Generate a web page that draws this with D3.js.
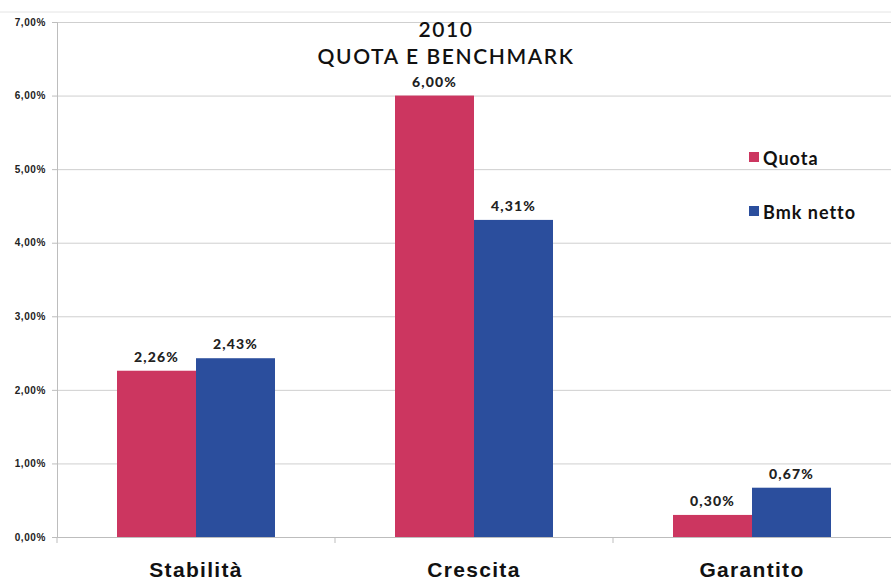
<!DOCTYPE html>
<html>
<head>
<meta charset="utf-8">
<script src="https://cdn.jsdelivr.net/npm/d3@7"></script>
<style>
  body { margin: 0; background: #fff; }
  svg { font-family: Lato, "Open Sans", sans-serif; }
  .grid line { stroke: #cfcfcf; }
  .grid path { display: none; }
  .y-axis path, .y-axis line { stroke: #bdbdbd; }
  .y-axis text { font-size: 10px; font-weight: 900; fill: #222; letter-spacing: 0.6px; }
  .x-axis path, .x-axis line { stroke: #bdbdbd; }
  .x-axis text { font-size: 21px; font-weight: bold; fill: #111; letter-spacing: 1.3px; }
</style>
</head>
<body>
<svg id="chart"></svg>
<script>
'use strict';

const categories = ['Stabilità', 'Crescita', 'Garantito'];
const seriesNames = ['Quota', 'Bmk netto'];
const quota = [2.26, 6.00, 0.30];
const bmkNetto = [2.43, 4.31, 0.67];
const yTicks = [0, 1, 2, 3, 4, 5, 6, 7];
const colors = ['#cc3660', '#2b4e9d'];

const W = 891, H = 585;
const margin = { top: 22, right: 0, bottom: 48, left: 57 };
const width = W - margin.left - margin.right;
const height = H - margin.top - margin.bottom;

const fmt = v => v.toFixed(2).replace('.', ',') + '%';

const svg = d3.select('#chart')
    .attr('width', W)
    .attr('height', H);

svg.append('line')
    .attr('x1', 0).attr('x2', W)
    .attr('y1', 12).attr('y2', 12)
    .attr('stroke', '#e4e4e4');

const graph = svg.append('g')
    .attr('transform', `translate(${margin.left}, ${margin.top})`);

const x = d3.scaleBand()
    .domain(categories)
    .range([0, width])
    .padding(0);

const barGroup = 158;
const x1 = d3.scaleBand()
    .domain(seriesNames)
    .range([(x.bandwidth() - barGroup) / 2, (x.bandwidth() + barGroup) / 2]);

const y = d3.scaleLinear()
    .domain([0, 7])
    .range([height, 0]);

graph.append('g')
    .attr('class', 'grid')
    .call(d3.axisLeft(y).tickValues(yTicks).tickSize(-width).tickFormat(''));

graph.append('g')
    .attr('class', 'y-axis')
    .call(d3.axisLeft(y).tickValues(yTicks).tickSize(5).tickPadding(6)
      .tickFormat(d => fmt(d)));

const data = categories.map((c, i) => ({ cat: c, values: [quota[i], bmkNetto[i]] }));

const groups = graph.selectAll('.group')
    .data(data)
  .enter().append('g')
    .attr('class', 'group')
    .attr('transform', d => `translate(${x(d.cat)}, 0)`);

groups.selectAll('rect')
    .data(d => d.values.map((v, j) => ({ key: seriesNames[j], v, j })))
  .enter().append('rect')
    .attr('x', d => x1(d.key))
    .attr('width', x1.bandwidth())
    .attr('y', d => y(d.v))
    .attr('height', d => height - y(d.v))
    .attr('fill', d => colors[d.j]);

groups.selectAll('.val')
    .data(d => d.values.map((v, j) => ({ key: seriesNames[j], v, j })))
  .enter().append('text')
    .attr('class', 'val')
    .attr('x', d => x1(d.key) + x1.bandwidth() / 2)
    .attr('y', d => y(d.v) - 9)
    .attr('text-anchor', 'middle')
    .attr('font-size', 14)
    .attr('font-weight', 900)
    .attr('letter-spacing', 1.2)
    .attr('fill', '#222')
    .text(d => fmt(d.v));

// x axis with separator ticks between categories
const xAxisG = graph.append('g')
    .attr('class', 'x-axis')
    .attr('transform', `translate(0, ${height})`)
    .call(d3.axisBottom(x).tickSize(0).tickPadding(25));

xAxisG.selectAll('.sep')
    .data(categories.slice(1))
  .enter().append('line')
    .attr('class', 'sep')
    .attr('x1', d => x(d)).attr('x2', d => x(d))
    .attr('y1', 0).attr('y2', 6);

xAxisG.append('line')
    .attr('x1', 0).attr('x2', 0)
    .attr('y1', 0).attr('y2', 6);

// title
const title = svg.append('text')
    .attr('text-anchor', 'middle')
    .attr('font-size', 21)
    .attr('font-weight', 600)
    .attr('letter-spacing', 1.6)
    .attr('fill', '#111');
title.append('tspan').attr('x', 446).attr('y', 37).text('2010');
title.append('tspan').attr('x', 446).attr('y', 64).text('QUOTA E BENCHMARK');

// legend
const legend = svg.append('g')
    .attr('transform', 'translate(749, 150)');

const items = legend.selectAll('g')
    .data(seriesNames)
  .enter().append('g')
    .attr('transform', (d, i) => `translate(0, ${i * 54})`);

items.append('rect')
    .attr('width', 10).attr('height', 10)
    .attr('y', 2)
    .attr('fill', (d, i) => colors[i]);

items.append('text')
    .attr('x', 14)
    .attr('y', 15)
    .attr('font-size', 18)
    .attr('font-weight', 'bold')
    .attr('letter-spacing', 1)
    .attr('fill', '#111')
    .text(d => d);
</script>
</body>
</html>
